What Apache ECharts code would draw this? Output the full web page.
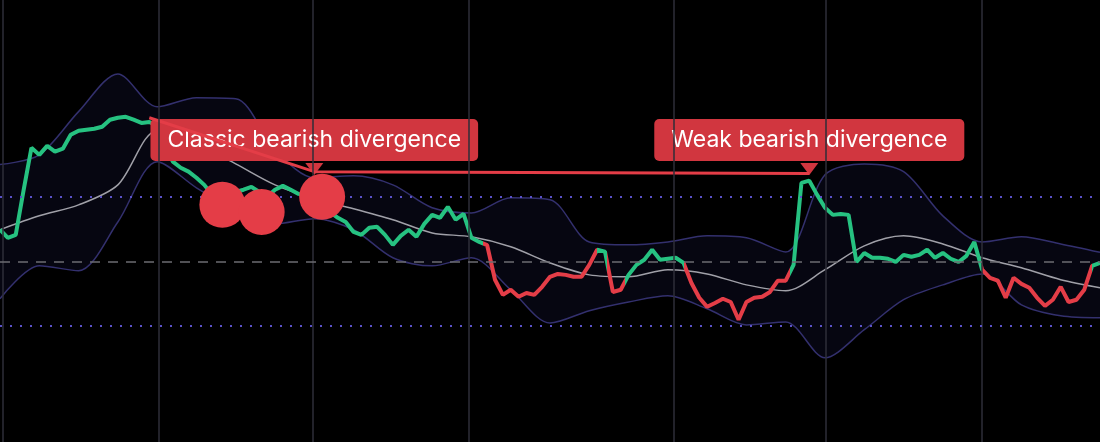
<!DOCTYPE html>
<html>
<head>
<meta charset="utf-8">
<script src="https://cdn.jsdelivr.net/npm/echarts@6/dist/echarts.min.js"></script>
<style>
html, body { margin: 0; padding: 0; background: #000; }
#chart { width: 1100px; height: 442px; }
</style>
</head>
<body>
<div id="chart"></div>
<script>
// RSI values, one per bar
var rsi = [59.8, 57.3, 58.2, 72, 85.2, 83, 85.8, 84, 84.9, 89.2,
    90.5, 90.8, 91.1, 91.7, 93.9, 94.5, 94.8, 93.9, 92.9, 93.2,
    92, 86, 80.9, 79, 77.8, 75.9, 73.7, 70.6, 70, 70.3,
    71.5, 72.2, 73.1, 71.5, 70, 72.2, 73.4, 72.2, 70.9, 70.3,
    69.7, 68.1, 65.3, 63.5, 62.2, 59.1, 58.2, 60.4, 60.7, 58.2,
    55.1, 57.9, 59.8, 57.6, 61.6, 64.4, 63.5, 66.9, 62.9, 64.7,
    57.3, 56, 55, 44.3, 39.6, 41.2, 39, 40.2, 39.6, 42.1,
    45.2, 46.1, 45.8, 45.2, 45.2, 48.9, 53.6, 53, 40.5, 41.2,
    45.8, 48.9, 50.5, 53.6, 50.5, 50.8, 51.1, 49.5, 43.3, 38.7,
    35.9, 37.1, 38.4, 37.4, 31.9, 37.4, 38.7, 39, 40.5, 44,
    44, 48.9, 74.3, 75, 70.6, 66.6, 64.4, 64.7, 64.4, 49.8,
    52.6, 51.1, 51.1, 50.8, 49.8, 52, 51.4, 52, 53.6, 51.1,
    52.6, 50.8, 49.8, 51.7, 56, 47.4, 44.9, 44, 38.7, 44.9,
    43, 41.8, 38.7, 36.2, 38.1, 42.1, 37.4, 38.1, 41.2, 48.6, 49.5];

// moving average and bands, sampled every 5 bars
var rsiMa = [59.8, 64.1, 67.5, 73.7, 90.5, 86.4, 80.2, 73.7, 69.4, 66.3,
    62.9, 58.8, 57.6, 54.5, 49.5, 45.8, 45.2, 47.4, 46.1, 42.7,
    40.9, 47.4, 54.8, 57.9, 55.4, 51.1, 48, 44.3, 41.8];
var bandUpper = [80, 83, 96.4, 108.1, 97.9, 100.7, 100.4, 84.6, 75.9, 76.5,
    73.7, 66.6, 65, 69.7, 69.1, 56, 55.1, 56, 57.9, 57.3,
    52.9, 76.8, 80.2, 77.8, 64.1, 56, 57.6, 55.4, 52.8];
var bandLower = [38.4, 48.6, 47.1, 62.2, 80.9, 72.8, 66, 61.6, 63.2, 59.8,
    51.1, 48.6, 51.1, 41.2, 30.9, 34.7, 37.4, 39.3, 35.3, 30.3,
    31.2, 20.1, 28.8, 38.1, 42.7, 46.1, 36.5, 33.1, 32.5];

// bar ranges where rsi is below its average (red)
var redRanges = [[61.5, 76], [77.3, 79.5], [87, 100.5], [125, 139]];

// vertical grid (bar index) and horizontal levels
var timeLines = [0.4, 20.2, 39.8, 59.6, 85.7, 105.1, 124.9];
var levels = [70, 50, 30];

// divergence annotations
var divLine = [[19, 94.5], [40, 77.8], [103, 77.2]];
var divDots = [[28.3, 67.5], [33.3, 65.3], [41, 70]];
var divLabels = [
    { value: [40, 78.6], text: 'Classic bearish divergence' },
    { value: [103, 78.6], text: 'Weak bearish divergence' }
];

var GREEN = '#26c281';
var RED = '#e43d47';
var BOX = '#d1363f';

var chart = echarts.init(document.getElementById('chart'));

var pieces = [];
var last = -1;
redRanges.forEach(function (r) {
    pieces.push({ gt: last, lte: r[0], color: GREEN });
    pieces.push({ gt: r[0], lte: r[1], color: RED });
    last = r[1];
});
pieces.push({ gt: last, lte: 1000, color: GREEN });

var bandCats = rsiMa.map(function (v, i) { return String(i); });

var option = {
    backgroundColor: '#000',
    animation: false,
    grid: { left: 0, right: 0, top: 0, bottom: 0 },
    xAxis: [
        { type: 'value', min: 0, max: rsi.length - 1, show: false },
        { type: 'category', data: bandCats, boundaryGap: false, show: false }
    ],
    yAxis: { type: 'value', min: -6, max: 131, show: false },
    visualMap: {
        show: false, type: 'piecewise', seriesIndex: 4, dimension: 0,
        pieces: pieces
    },
    series: [
        {
            type: 'line', xAxisIndex: 1, stack: 'band', symbol: 'none', smooth: 0.3,
            data: bandLower,
            lineStyle: { color: '#33306e', width: 1.5 }
        },
        {
            type: 'line', xAxisIndex: 1, stack: 'band', symbol: 'none', smooth: 0.3,
            data: bandUpper.map(function (v, i) { return +(v - bandLower[i]).toFixed(1); }),
            lineStyle: { color: '#33306e', width: 1.5 },
            areaStyle: { color: 'rgba(42, 40, 110, 0.22)' }
        },
        {
            type: 'line', xAxisIndex: 1, symbol: 'none', smooth: 0.3,
            data: rsiMa,
            lineStyle: { color: '#a0a0a8', width: 1.5 }
        },
        {
            type: 'line', symbol: 'none', data: divLine, z: 4,
            lineStyle: { color: RED, width: 3 },
            markLine: {
                silent: true, symbol: 'none', label: { show: false },
                data: timeLines.map(function (t) {
                    return { xAxis: t, lineStyle: { color: '#2e2e38', width: 1.5, type: 'solid' } };
                }).concat(levels.map(function (l) {
                    return { yAxis: l, lineStyle: l === 50
                        ? { color: '#6c6c72', width: 1.5, type: [10, 8] }
                        : { color: '#5a52c8', width: 2, type: [2, 8] } };
                }))
            }
        },
        {
            type: 'line', symbol: 'none',
            data: rsi.map(function (v, i) { return [i, v]; }),
            lineStyle: { width: 4 }
        },
        {
            type: 'scatter', symbolSize: 46, data: divDots, z: 5,
            itemStyle: { color: RED, opacity: 1 }
        },
        {
            type: 'scatter', symbol: 'triangle', symbolRotate: 180, z: 3,
            symbolSize: [18, 12],
            data: divLabels.map(function (d) { return { value: d.value, name: d.text }; }),
            itemStyle: { color: BOX, opacity: 1 },
            label: {
                show: true, position: 'top', distance: 2,
                formatter: '{b}',
                color: '#fff', fontFamily: 'Inter', fontSize: 23, lineHeight: 24,
                backgroundColor: BOX, borderRadius: 5,
                padding: [9, 17]
            }
        }
    ]
};

chart.setOption(option);
</script>
</body>
</html>
